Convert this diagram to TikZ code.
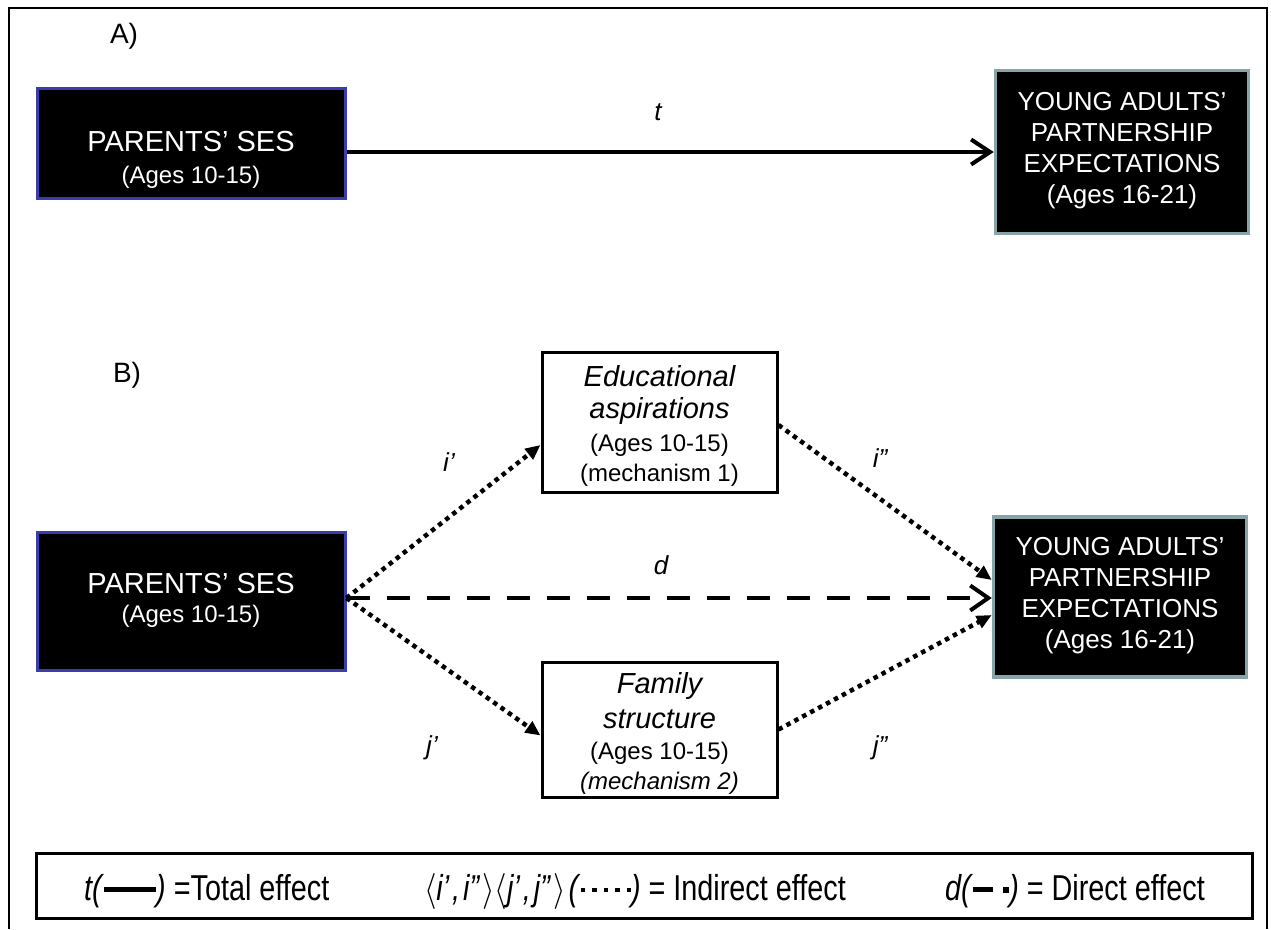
\documentclass[tikz,border=0pt]{standalone}
\usepackage{fontspec}
\usepackage{graphicx}
\setmainfont{Liberation Sans}
\newfontfamily\legfont[FakeStretch=0.8]{Liberation Sans}
\usetikzlibrary{arrows.meta,calc}
\definecolor{sesblue}{RGB}{60,60,170}
\definecolor{yateal}{RGB}{135,165,168}
\newcommand\fsTitle{\fontsize{28}{33}\selectfont}
\newcommand\fsMain{\fontsize{29}{34}\selectfont}
\newcommand\fsSub{\fontsize{24}{28}\selectfont}
\newcommand\fsYA{\fontsize{26}{31}\selectfont}
\newcommand\fsLab{\fontsize{26}{31}\selectfont}
\newcommand\fsLeg{\legfont\fontsize{36}{40}\selectfont}
\newcommand\legdot{\rule[8pt]{4.5pt}{4.5pt}\hspace{7pt}}
\newcommand\legdotlast{\rule[8pt]{4.5pt}{4.5pt}}
\newcommand\lgang{\scalebox{3.2}[3.6]{\fontsize{10}{12}\selectfont$\langle$}}
\newcommand\rgang{\scalebox{3.2}[3.6]{\fontsize{10}{12}\selectfont$\rangle$}}
\begin{document}
\begin{tikzpicture}[x=1pt,y=-1pt,
  blackbox/.style={draw, fill=black, inner sep=0pt, line width=3pt},
  sesbox/.style={blackbox, draw=sesblue, minimum width=308pt},
  yabox/.style={blackbox, draw=yateal, line width=3.5pt, minimum width=253pt},
  medbox/.style={draw, fill=white, line width=3pt, inner sep=0pt, minimum width=235pt},
  wtext/.style={text=white, inner sep=0pt, align=center},
  btext/.style={text=black, inner sep=0pt, align=center},
  lab/.style={inner sep=0pt, font=\fsLab\itshape},
  legtext/.style={inner sep=0pt, anchor=base west, font=\fsLeg},
  solidarrow/.style={line width=4pt, -{Straight Barb[length=19pt,width=25pt,line width=4pt]}},
  dashedarrow/.style={line width=4.5pt, dash pattern=on 23pt off 17pt, -{Straight Barb[length=18pt,width=25pt,line width=4pt]}},
  dottedarrow/.style={line width=4.5pt, dash pattern=on 4.5pt off 4.5pt, -{Triangle[length=15pt,width=13pt]}}
]
\useasboundingbox (0,0) rectangle (1271,929);
% outer frame
\coordinate (fbl) at (9,929);
\coordinate (ftl) at (9,8);
\coordinate (ftr) at (1267,8);
\coordinate (fbr) at (1267,929);
\draw[line width=1.5pt] (fbl) -- (ftl) -- (ftr) -- (fbr);

% ---------- A ----------
\node[inner sep=0pt, font=\fsTitle] (labA) at (124,36) {A)};
\node[sesbox, minimum height=110pt] (pa) at (191,143) {};
\node[wtext, font=\fsMain] (pa1) at (191,142) {PARENTS’ SES};
\node[wtext, font=\fsSub] (pa2) at (191,177) {(Ages 10-15)};
\node[yabox, minimum height=163pt] (ya) at (1122,152) {};
\node[wtext, font=\fsYA] (yat) at (1122,151) {YOUNG ADULTS’\\PARTNERSHIP\\EXPECTATIONS\\(Ages 16-21)};
\draw[solidarrow] (pa.east |- ya.west) -- (ya.west);
\node[lab] (lt) at (658,112) {t};

% ---------- B ----------
\node[inner sep=0pt, font=\fsTitle] (labB) at (127,375) {B)};
\node[sesbox, minimum height=138pt] (pb) at (191,601) {};
\node[wtext, font=\fsMain] (pb1) at (191,584) {PARENTS’ SES};
\node[wtext, font=\fsSub] (pb2) at (191,616) {(Ages 10-15)};
\node[yabox, minimum height=160pt] (yb) at (1120,597) {};
\node[wtext, font=\fsYA] (ybt) at (1120,596) {YOUNG ADULTS’\\PARTNERSHIP\\EXPECTATIONS\\(Ages 16-21)};

\node[medbox, minimum height=140pt] (edu) at (659.5,422) {};
\node[btext, font=\fsMain\itshape] (edu1) at (659.5,376) {Educational};
\node[btext, font=\fsMain\itshape] (edu2) at (659.5,411) {aspirations};
\node[btext, font=\fsSub] (edu3) at (659.5,445) {(Ages 10-15)};
\node[btext, font=\fsSub] (edu4) at (659.5,475) {(mechanism 1)};

\node[medbox, minimum height=135pt] (fam) at (659.5,729.5) {};
\node[btext, font=\fsMain\itshape] (fam1) at (659.5,686) {Family};
\node[btext, font=\fsMain\itshape] (fam2) at (659.5,719) {structure};
\node[btext, font=\fsSub] (fam3) at (659.5,753) {(Ages 10-15)};
\node[btext, font=\fsSub\itshape] (fam4) at (659.5,783) {(mechanism 2)};

\coordinate (pbout) at ($(pb.east)+(0,-3)$);
\coordinate (eduin) at ($(edu.west)+(0,23)$);
\coordinate (eduout) at ($(edu.east)+(0,3)$);
\coordinate (famin) at ($(fam.west)+(0,6)$);
\coordinate (famout) at (fam.east);
\coordinate (ybup) at ($(yb.west)+(0,-17)$);
\coordinate (ybdn) at ($(yb.west)+(0,18)$);

\draw[dashedarrow] (pbout) -- (pbout -| yb.west);
\draw[dottedarrow] (pbout) -- (eduin);
\draw[dottedarrow] (pbout) -- (famin);
\draw[dottedarrow] (eduout) -- (ybup);
\draw[dottedarrow] (famout) -- (ybdn);

\node[lab] (ld) at (661,565) {d};
\node[lab] (li1) at (449,462) {i’};
\node[lab] (li2) at (880,458) {i”};
\node[lab] (lj1) at (432,748) {j’};
\node[lab] (lj2) at (880,748) {j”};

% ---------- legend ----------
\node[draw, line width=3pt, minimum width=1216pt, minimum height=65pt, inner sep=0pt] (leg) at (644,886) {};
\node[legtext] (leg1) at (84,900)
  {\textit{t(}\rule[8pt]{52pt}{5pt}\textit{)} =Total effect};
\node[legtext, anchor=base east] (leg2) at (846,900)
  {\lgang\textit{i’\hspace{3pt},\hspace{3pt}i”\hspace{2pt}}\rgang\lgang\textit{j’\hspace{3pt},\hspace{3pt}j”\hspace{2pt}}\rgang\hspace{3pt}\textit{(}\legdot\legdot\legdot\legdot\legdotlast\textit{)} = Indirect effect};
\node[legtext] (leg3) at (945,900)
  {\textit{d(}\rule[8pt]{20pt}{5pt}\hspace{10pt}\rule[7.5pt]{6pt}{6pt}\textit{)} = Direct effect};
\end{tikzpicture}
\end{document}
